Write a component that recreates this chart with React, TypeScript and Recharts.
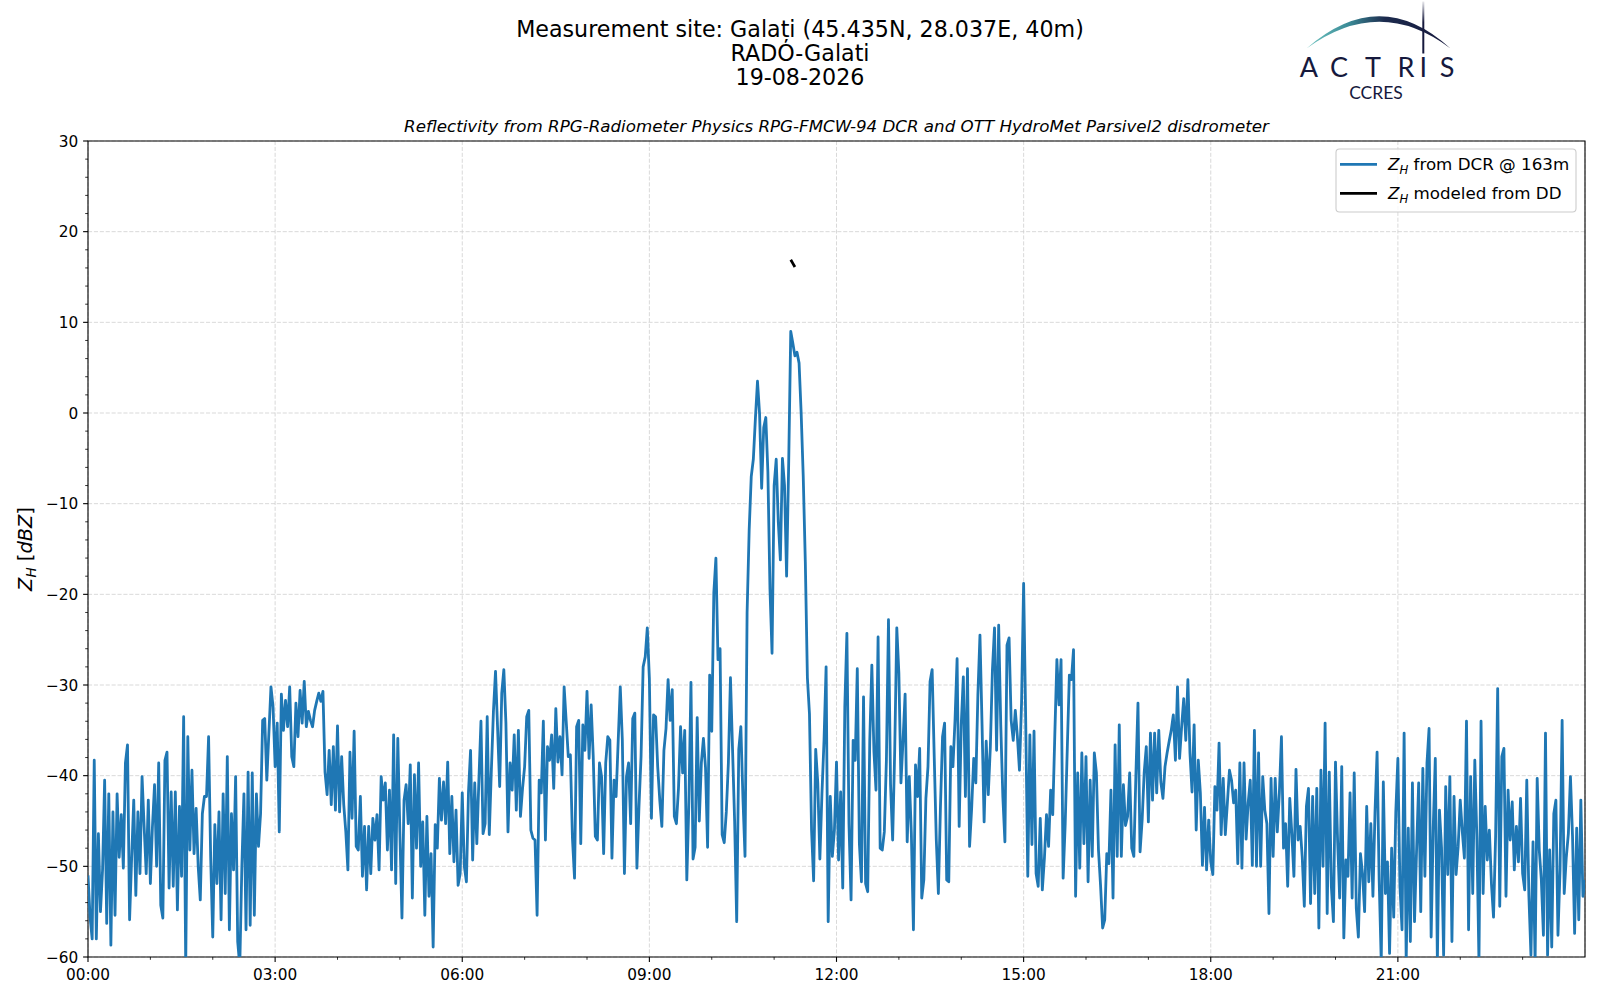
import { LineChart, Line, XAxis, YAxis, CartesianGrid, ReferenceArea } from 'recharts';

const font = "'DejaVu Sans', sans-serif";
const stepMinutes = 2;

// Z_H from DCR, one value every 2 minutes
const dcr0000to0342 = [
  -51, -55.6, -58, -38.3, -58, -46.4, -55, -50.4, -40.5, -56.3,
  -42, -58.7, -44, -55.4, -42, -49, -44.3, -50.2, -38.6, -36.6,
  -55.9, -49, -42.7, -53.2, -44, -50.8, -40.1, -45.6, -50.8, -42.7,
  -51.9, -45.6, -41, -50, -38.6, -54.3, -55.7, -38.3, -37.4, -52.4,
  -41.8, -52.2, -41.8, -54.8, -43.4, -51.1, -33.5, -61, -35.7, -48.2,
  -39.4, -48.6, -43.6, -50, -53.7, -44.2, -42.3, -42.3, -35.7, -49,
  -57.8, -45.4, -51.9, -44, -55.9, -42, -53, -37.9, -57, -44.2,
  -50.4, -40.1, -58.3, -61, -50, -42, -57, -39.6, -56.5, -39.7,
  -55.4, -42, -47.8, -44.2, -33.9, -33.7, -40.5, -35.3, -30.2, -32.4,
  -39, -34.2, -46.2, -31, -35, -31.7, -34.6, -30.2, -37.9, -39,
  -32, -35.7, -30.6, -34.2, -29.6, -34.6, -32.9, -33.9, -34.6, -32.8,
  -31.8, -30.9,
];
const dcr0344to0742 = [
  -31.8, -30.7, -39.6, -42.1, -37.2, -43.2, -36.8, -43.8, -34.5, -44,
  -37.9, -43.2, -46.2, -50.4, -37.4, -44.7, -35.1, -47.8, -48.2, -42.3,
  -51.1, -45.6, -52.6, -45.6, -50.8, -44.7, -47.1, -44.3, -50.4, -40.1,
  -42.7, -40.8, -48.2, -41.6, -50.4, -35.5, -51.9, -35.9, -46.2, -55.7,
  -42.7, -41, -45.3, -38.8, -53.5, -39.9, -48, -38.6, -50, -45.1,
  -55.4, -44.5, -53.3, -48.6, -58.9, -45.4, -48, -40.3, -44.9, -40.7,
  -45.3, -38.5, -48.6, -42.3, -49.5, -43.8, -52.1, -50.8, -41.9, -50,
  -51.7, -41.8, -37.2, -49.3, -40.8, -47.5, -40.5, -34, -46.4, -45.3,
  -33.5, -46.5, -39.4, -32.9, -28.5, -34.8, -41.2, -30.9, -28.3, -34.2,
  -46.2, -38.6, -41.6, -35.5, -43.8, -35, -44.5, -41.4, -39, -33.5,
  -32.8, -46, -46.9, -47.1, -55.4, -40.5, -41.9, -34, -47.1, -36.8,
  -38.3, -35.5, -41.4, -32.6, -38.5, -35.7, -39.9, -30.2, -34, -37.9,
];
const dcr0744to0938 = [
  -37.7, -46.9, -51.3, -34.6, -33.9, -47.5, -34.4, -37.2, -30.7, -38.1,
  -32.2, -37.9, -46.7, -47.1, -38.6, -40.1, -48.6, -38.6, -35.7, -36.1,
  -49.1, -40.5, -42.3, -36.2, -30.2, -36.1, -50.8, -40.1, -38.6, -45.3,
  -33.7, -33.1, -50.2, -43.4, -37.9, -28, -26.9, -23.7, -29.3, -44.7,
  -33.3, -33.5, -39, -42.7, -45.6, -37.2, -34.8, -29.4, -33.9, -30.5,
  -44.5, -45.3, -41.4, -34.6, -39.7, -35, -51.5, -43,
];
const dcr0940to1154 = [
  -29.7, -49.2, -47.9, -33.6, -45, -38.6, -35.9, -39.1, -47.9, -28.9,
  -35.1, -19.8, -16, -27.2, -26, -46.5, -47.4, -44, -38.6, -29.2,
  -37.1, -45, -56.1, -37.1, -34.6, -42.5, -48.9, -22, -12.9, -7,
  -5.1, -0.6, 3.5, -0.1, -8.3, -1.6, -0.5, -6.5, -19.4, -26.5,
  -8, -5.1, -12, -16.2, -5, -8, -18, -5.6, 9, 7.7,
  6.3, 6.7, 5.5, 0, -7, -16.4, -29.2, -33.2, -46, -51.6,
  -37.1, -40.8, -49.2, -42, -36.1, -28, -56.1, -42.3,
];
const dcr1156to1526 = [
  -48.9, -46, -38.5, -49.3, -41.8, -52.4, -32.4, -24.3, -45.3, -53.7,
  -36.1, -38.3, -28.2, -47.5, -51.7, -31.3, -51.9, -52.8, -36.1, -27.8,
  -37.3, -41.6, -24.7, -48, -48.2, -46.2, -38.3, -22.8, -41, -47.1,
  -37.2, -23.7, -28.7, -40.8, -36.1, -31, -47.3, -40.1, -46.4, -57,
  -38.8, -42.3, -37, -53.5, -51.5, -42.5, -39, -29.6, -28.3, -37.9,
  -47.1, -53, -43.4, -35.7, -34.2, -51.5, -51.7, -36.8, -39, -33.9,
  -27.1, -45.6, -34.4, -29.1, -42.3, -28.2, -47.8, -43.6, -38.1, -40.8,
  -31.1, -24.5, -34.4, -45.1, -36.2, -42.1, -36.8, -28.3, -23.7, -37.2,
  -23.4, -34.4, -42.3, -47.3, -25.6, -24.8, -33.9, -36.1, -32.8, -35.7,
  -39.4, -32, -18.8, -33.9, -51.1, -35.5, -47.6, -35.1, -50.8, -52.2,
  -44.7, -52.6, -49.1, -44.3, -47.8, -41.6,
];
const dcr1528to1916 = [
  -44.3, -35.5, -27.2, -32.2, -27.2, -51.3, -45.3, -37, -28.9, -29.4,
  -26.1, -53.3, -39.7, -50.2, -37.5, -47.5, -37.9, -51.7, -40.5, -48.9,
  -37.5, -39.7, -48.2, -52.1, -56.8, -55.9, -48.6, -49.7, -41.6, -53.5,
  -36.6, -48.9, -34.4, -48.9, -41, -45.5, -44.5, -39.7, -48, -48.9,
  -39.9, -32, -48.4, -44.9, -39.6, -36.8, -45.1, -35.3, -42.7, -35.3,
  -41.9, -35, -40.7, -42.5, -39, -37.5, -36.2, -35, -33.3, -38.3,
  -30.2, -38.1, -34.6, -31.5, -36.1, -29.4, -37.5, -41.8, -34.4, -46,
  -38.3, -41.9, -49.9, -43.5, -50.4, -44.9, -49.5, -50.9, -41.2, -43.8,
  -36.4, -46.5, -40.3, -46.5, -43, -39.4, -40.5, -43, -41.6, -49.7,
  -38.6, -50.2, -38.6, -47, -43, -40.5, -49.9, -35, -50, -37.5,
  -50, -40.1, -43.8, -45.3, -55.2, -40.3, -48.9, -40.3, -46.2, -41.9,
  -35.7, -48, -45.3, -52.2, -42.5,
];
const dcr1918to2332 = [
  -46.4, -51.1, -39.3, -47.1, -45.6, -49, -54.4, -43.4, -41.4, -54.1,
  -42.3, -53, -41.4, -56.8, -39.4, -50, -34.2, -55.2, -39.6, -52.2,
  -56.1, -38.5, -47.1, -53.5, -39, -57.9, -49.3, -51.1, -41.9, -53.5,
  -39.7, -54.6, -57.8, -48.6, -50.8, -55, -43.4, -51.7, -45.3, -53.3,
  -44, -37.4, -51.5, -60.5, -40.7, -53, -49.5, -59.6, -48, -55.6,
  -44, -38.1, -52.2, -57, -35.3, -60.5, -45.8, -58.3, -40.8, -56.1,
  -48.2, -40.8, -55, -39.2, -51.1, -38.6, -34.8, -57.8, -45.8, -38.1,
  -60.5, -43.8, -48, -59.8, -41.2, -50.9, -40.1, -58.3, -42.3, -50.9,
  -47.8, -42.7, -46.2, -49.1, -34, -57, -40.1, -53, -38.3, -46.9,
  -60.5, -34, -53, -43.4, -49.3, -46, -51.9, -55.6, -46.7, -30.4,
  -54.4, -37.9, -37, -53.3, -41.6, -47.1, -42.9, -50.4, -45.6, -49.5,
  -42.5, -50.8, -52.6, -40.5, -53.2, -59.8, -47.3, -60.5, -40.3, -48.2,
  -51.5, -57.6, -35.3, -59.8, -48.2, -58.9, -44.2, -42.7,
];
const dcr2334to2400 = [
  -57.6, -50.4, -33.9, -53, -49, -46.4, -40.1, -46.7, -57.4, -45.8,
  -55.9, -42.7, -53.3, -51.5,
];

const dcrValues = [
  ...dcr0000to0342, ...dcr0344to0742, ...dcr0744to0938, ...dcr0940to1154,
  ...dcr1156to1526, ...dcr1528to1916, ...dcr1918to2332, ...dcr2334to2400,
];

// Z_H modeled from the disdrometer: only a short piece near 11:17
const ddMinutes = [676, 678, 680];
const ddValues = [16.9, 16.5, 16.1];

const xTicks = [0, 60, 120, 180, 240, 300, 360, 420, 480, 540, 600, 660, 720, 780, 840, 900,
  960, 1020, 1080, 1140, 1200, 1260, 1320, 1380];
const xMajor = [0, 180, 360, 540, 720, 900, 1080, 1260, 1440];
const yTicks = [-60, -58, -56, -54, -52, -50, -48, -46, -44, -42, -40, -38, -36, -34, -32, -30,
  -28, -26, -24, -22, -20, -18, -16, -14, -12, -10, -8, -6, -4, -2, 0, 2, 4, 6, 8, 10, 12, 14,
  16, 18, 20, 22, 24, 26, 28, 30];
const yMajor = [-60, -50, -40, -30, -20, -10, 0, 10, 20, 30];

const data = dcrValues.map((v, i) => {
  const t = i * stepMinutes;
  const k = ddMinutes.indexOf(t);
  return { t, dcr: v, dd: k >= 0 ? ddValues[k] : null };
});

const renderXTick = (props) => {
  const { x, y, payload } = props;
  const major = payload.value % 180 === 0;
  const h = String(payload.value / 60).padStart(2, '0');
  return (
    <g>
      <line x1={x} x2={x} y1={y} y2={y + (major ? 4.9 : 2.8)} stroke="#000" strokeWidth={major ? 1.1 : 0.8} />
      {major && (
        <text x={x} y={y + 23} textAnchor="middle" fontSize={15.3} fontFamily={font} fill="#000">
          {h}:00
        </text>
      )}
    </g>
  );
};

const renderYTick = (props) => {
  const { x, y, payload } = props;
  const major = payload.value % 10 === 0;
  return (
    <g>
      <line x1={x} x2={x - (major ? 4.9 : 2.8)} y1={y} y2={y} stroke="#000" strokeWidth={major ? 1.1 : 0.8} />
      {major && (
        <text x={x - 9.8} y={y + 5.5} textAnchor="end" fontSize={15.3} fontFamily={font} fill="#000">
          {String(payload.value).replace('-', '\u2212')}
        </text>
      )}
    </g>
  );
};

const navy = '#16193d';

function Logo() {
  const letters = [
    ['A', 1309], ['C', 1339], ['T', 1373], ['R', 1406], ['I', 1423.3], ['S', 1447],
  ];
  return (
    <g>
      <defs>
        <linearGradient id="arcGrad" gradientUnits="userSpaceOnUse" x1="1306" y1="0" x2="1450" y2="0">
          <stop offset="0" stopColor="#70c6c2" />
          <stop offset="0.3" stopColor="#3a8a96" />
          <stop offset="0.55" stopColor="#1c2a4d" />
          <stop offset="1" stopColor={navy} />
        </linearGradient>
        <linearGradient id="poleGrad" x1="0" y1="0" x2="0" y2="1">
          <stop offset="0" stopColor={navy} stopOpacity="0.1" />
          <stop offset="0.4" stopColor={navy} stopOpacity="1" />
        </linearGradient>
      </defs>
      <path d="M1306.5 48.5 Q1380 -16 1450.5 48.5 Q1380 -5 1306.5 48.5 Z" fill="url(#arcGrad)" />
      <rect x={1422.3} y={1.5} width={2} height={52} fill="url(#poleGrad)" />
      {letters.map(([c, cx]) => (
        <text key={c} x={cx} y={77} textAnchor="middle" fontSize={27} fontFamily="Lato, sans-serif" fill={navy}>
          {c}
        </text>
      ))}
      <text x={1376} y={98.5} textAnchor="middle" fontSize={17.5} fontFamily="Lato, sans-serif" fill={navy}>
        CCRES
      </text>
    </g>
  );
}

function Overlay() {
  return (
    <svg width={1600} height={1000} style={{ position: 'absolute', left: 0, top: 0, pointerEvents: 'none' }}>
      <g fontFamily={font} fill="#000">
        <text x={800} y={37} textAnchor="middle" fontSize={22.2}>Measurement site: Galați (45.435N, 28.037E, 40m)</text>
        <text x={800} y={61} textAnchor="middle" fontSize={22.2}>RADO-Galati</text>
        <text x={800} y={85} textAnchor="middle" fontSize={22.2}>19-08-2026</text>
        <text x={836.5} y={132} textAnchor="middle" fontSize={16.7} fontStyle="italic">
          Reflectivity from RPG-Radiometer Physics RPG-FMCW-94 DCR and OTT HydroMet Parsivel2 disdrometer
        </text>
        <text transform="translate(31.5,549) rotate(-90)" textAnchor="middle" fontSize={19.4}>
          <tspan fontStyle="italic">Z</tspan>
          <tspan fontStyle="italic" fontSize={13.6} dy={4}>H</tspan>
          <tspan dy={-4}> [</tspan>
          <tspan fontStyle="italic">dBZ</tspan>
          <tspan>]</tspan>
        </text>
      </g>
      <Logo />
      <g fontFamily={font} fontSize={16.7} fill="#000">
        <rect x={1336} y={149} width={240} height={63} rx={3.5} fill="#fff" fillOpacity={0.8} stroke="#cccccc" strokeWidth={1.1} />
        <line x1={1340} x2={1377} y1={164.3} y2={164.3} stroke="#1f77b4" strokeWidth={2.8} />
        <text x={1388} y={170}>
          <tspan fontStyle="italic">Z</tspan>
          <tspan fontStyle="italic" fontSize={11.7} dy={3.5}>H</tspan>
          <tspan dy={-3.5}> from DCR @ 163m</tspan>
        </text>
        <line x1={1340} x2={1377} y1={193.3} y2={193.3} stroke="#000" strokeWidth={2.8} />
        <text x={1388} y={199}>
          <tspan fontStyle="italic">Z</tspan>
          <tspan fontStyle="italic" fontSize={11.7} dy={3.5}>H</tspan>
          <tspan dy={-3.5}> modeled from DD</tspan>
        </text>
      </g>
    </svg>
  );
}

export default function App() {
  return (
    <div style={{ position: 'absolute', left: 0, top: 0, width: 1600, height: 1000, background: '#fff' }}>
      <LineChart width={1600} height={1000} data={data} margin={{ top: 141, right: 15, bottom: 13, left: 28 }}>
        <CartesianGrid
          stroke="#cfcfcf"
          strokeDasharray="4.1 1.8"
          strokeWidth={0.8}
          horizontalValues={yMajor}
          verticalValues={xMajor}
        />
        <XAxis
          dataKey="t"
          type="number"
          domain={[0, 1440]}
          ticks={xTicks}
          interval={0}
          tickSize={0}
          tickMargin={0}
          tickLine={false}
          axisLine={false}
          tick={renderXTick}
          allowDataOverflow
          height={30}
        />
        <YAxis
          type="number"
          domain={[-60, 30]}
          ticks={yTicks}
          interval={0}
          tickSize={0}
          tickMargin={0}
          tickLine={false}
          axisLine={false}
          tick={renderYTick}
          allowDataOverflow
          width={60}
        />
        <Line
          dataKey="dcr"
          stroke="#1f77b4"
          strokeWidth={2.8}
          strokeLinejoin="round"
          dot={false}
          activeDot={false}
          isAnimationActive={false}
        />
        <Line
          dataKey="dd"
          stroke="#000"
          strokeWidth={2.8}
          strokeLinejoin="round"
          dot={false}
          activeDot={false}
          isAnimationActive={false}
        />
        <ReferenceArea x1={0} x2={1440} y1={-60} y2={30} fill="none" fillOpacity={0} stroke="#000" strokeWidth={1.1} ifOverflow="visible" />
      </LineChart>
      <Overlay />
    </div>
  );
}
